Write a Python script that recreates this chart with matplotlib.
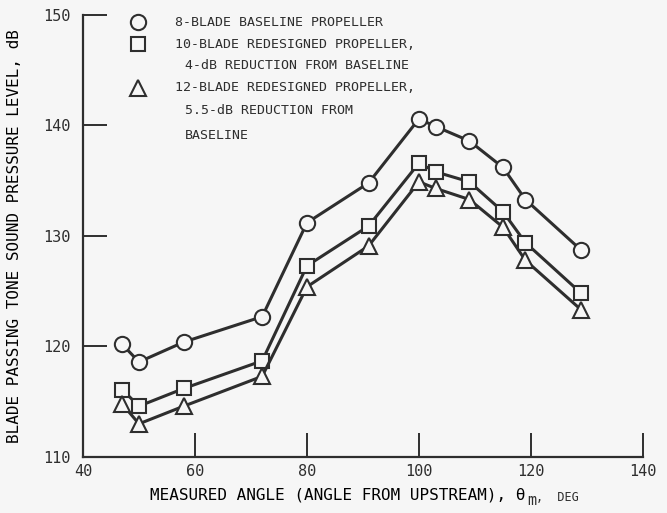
import matplotlib
matplotlib.use("Agg")
import matplotlib.pyplot as plt

# ── Plot style ────────────────────────────────────────────────────────────────
INK      = "#2e2e2e"
BG_COLOR = "#f6f6f6"
MONO     = "DejaVu Sans Mono"

plt.rcParams.update({
    "font.family":        MONO,
    "text.color":         INK,
    "axes.edgecolor":     INK,
    "axes.linewidth":     1.6,
    "xtick.color":        INK,
    "ytick.color":        INK,
    "xtick.direction":    "in",
    "ytick.direction":    "in",
})
# ─────────────────────────────────────────────────────────────────────────────

angle_deg = [47, 50, 58, 72, 80, 91, 100, 103, 109, 115, 119, 129]
spl_8_blade = [120.2, 118.6, 120.4, 122.7, 131.2, 134.8, 140.6, 139.9, 138.6, 136.2, 133.3, 128.7]
spl_10_blade = [116.1, 114.6, 116.2, 118.7, 127.3, 130.9, 136.6, 135.8, 134.9, 132.2, 129.4, 124.8]
spl_12_blade = [114.8, 113.0, 114.6, 117.3, 125.4, 129.1, 134.9, 134.3, 133.3, 130.8, 127.8, 123.3]

x_ticks = [40, 60, 80, 100, 120, 140]
y_ticks = [110, 120, 130, 140, 150]

series = [
    (spl_8_blade, "o", 11),
    (spl_10_blade, "s", 10),
    (spl_12_blade, "^", 11),
]

legend_lines = [
    ("o", 11, "8-BLADE BASELINE PROPELLER"),
    ("s", 10, "10-BLADE REDESIGNED PROPELLER,"),
    (None, 0, "4-dB REDUCTION FROM BASELINE"),
    ("^", 11, "12-BLADE REDESIGNED PROPELLER,"),
    (None, 0, "5.5-dB REDUCTION FROM"),
    (None, 0, "BASELINE"),
]
legend_y = [0.984, 0.934, 0.885, 0.835, 0.785, 0.728]

fig = plt.figure(figsize=(6.67, 5.13), dpi=100, facecolor=BG_COLOR)
ax = fig.add_axes([0.1244, 0.1092, 0.8396, 0.8616])
ax.set_facecolor(BG_COLOR)

for values, marker, size in series:
    ax.plot(angle_deg, values, color=INK, linewidth=2.2, marker=marker,
            markersize=size, markerfacecolor=BG_COLOR, markeredgecolor=INK,
            markeredgewidth=1.5, zorder=3)

ax.set_xlim(40, 140)
ax.set_ylim(110, 150)
ax.set_xticks(x_ticks)
ax.set_yticks(y_ticks)
ax.tick_params(axis="both", length=17, width=1.4, labelsize=11)
ax.tick_params(axis="x", pad=5)
ax.tick_params(axis="y", pad=9)
ax.spines["top"].set_visible(False)
ax.spines["right"].set_visible(False)

ax.set_ylabel("BLADE PASSING TONE SOUND PRESSURE LEVEL, dB", fontsize=11.5)
ax.yaxis.set_label_coords(-0.109, 0.5)
ax.set_xlabel("MEASURED ANGLE (ANGLE FROM UPSTREAM), θ", fontsize=11.5)
ax.xaxis.set_label_coords(0.455, -0.068)
sub = ax.annotate("m", xy=(1.0, 0.0), xycoords=ax.xaxis.label,
                  xytext=(1, 1), textcoords="offset points",
                  ha="left", va="center", fontsize=11, color=INK)
ax.annotate(",  DEG", xy=(1.0, 0.7), xycoords=sub,
            ha="left", va="center", fontsize=8.5, color=INK)

# hand-drawn style key in the upper left corner
for (marker, size, text), y in zip(legend_lines, legend_y):
    if marker is not None:
        ax.plot([0.098], [y], transform=ax.transAxes, clip_on=False,
                linestyle="none", marker=marker, markersize=size,
                markerfacecolor=BG_COLOR, markeredgecolor=INK, markeredgewidth=1.5)
        x_text = 0.164
    else:
        x_text = 0.182
    ax.text(x_text, y, text, transform=ax.transAxes, ha="left", va="center",
            fontsize=9.5)

fig.savefig("out.png", dpi=100, facecolor=BG_COLOR)
